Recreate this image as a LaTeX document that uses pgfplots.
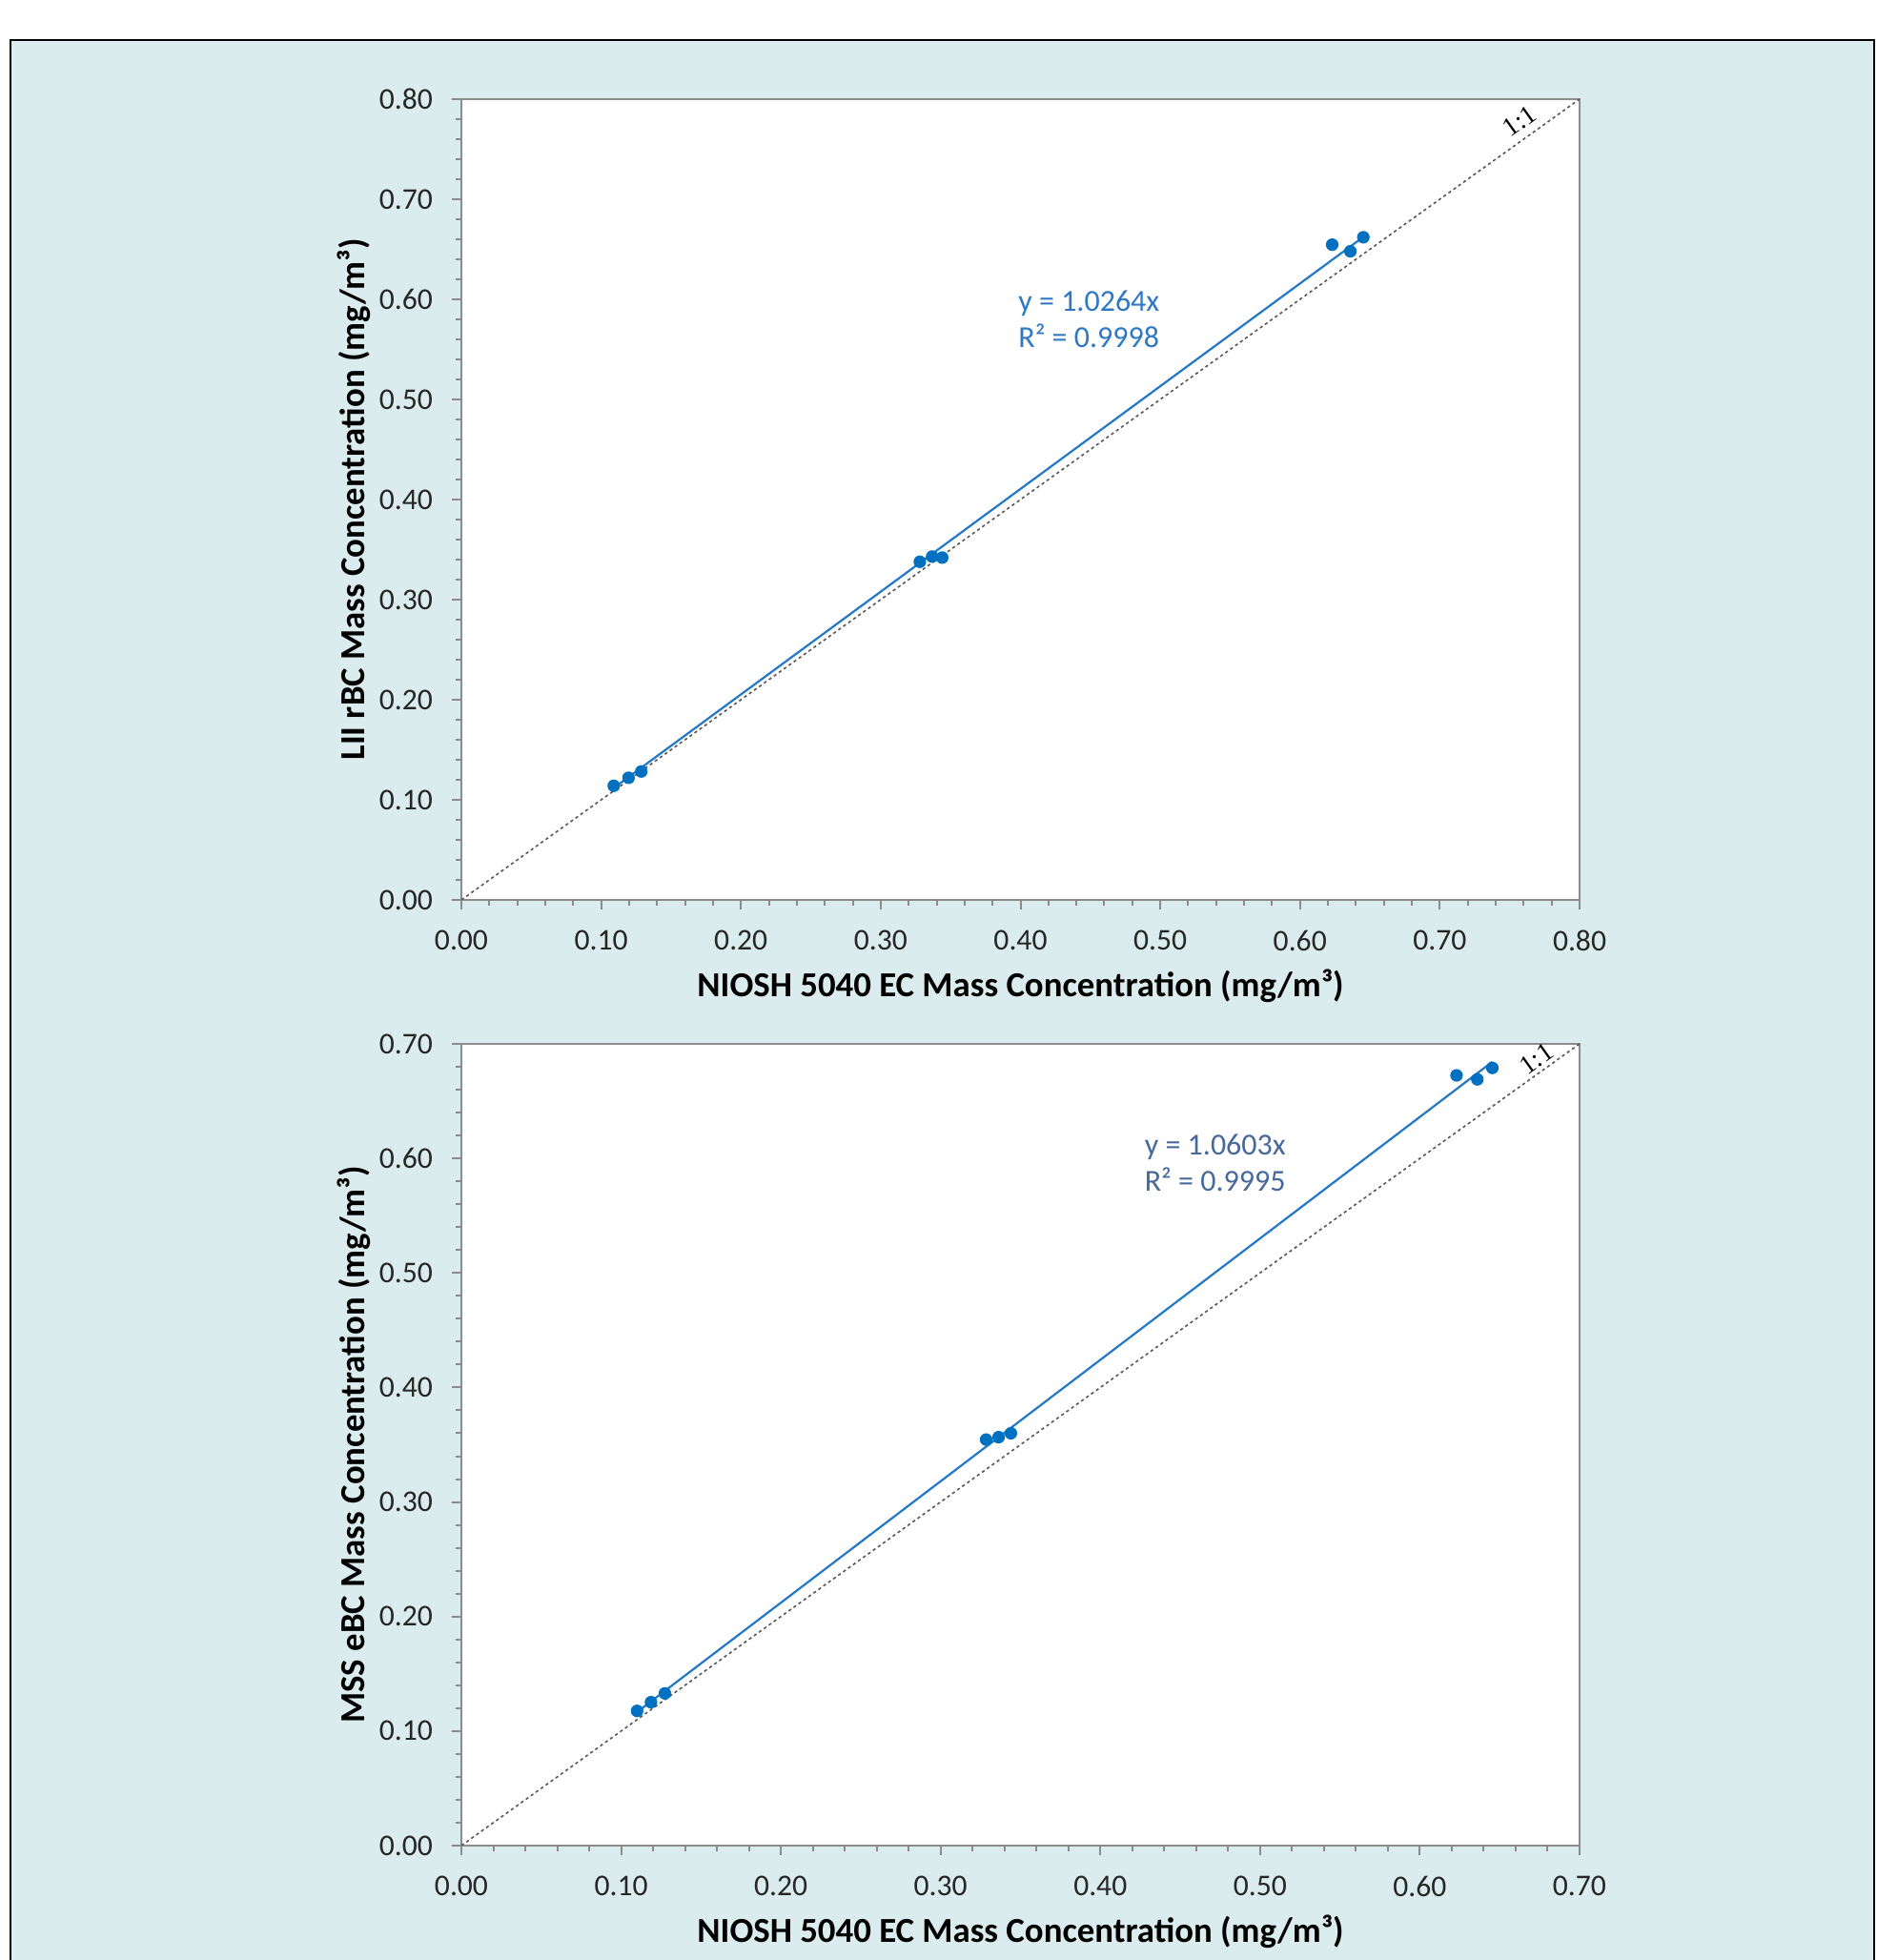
\documentclass[border=0pt]{standalone}
\usepackage{fontspec}
\setmainfont{Carlito}
\newfontfamily\serifont{Liberation Serif}
\usepackage{pgfplots}
\usepackage{pgfplotstable}
\pgfplotsset{compat=1.18}
\definecolor{bgblue}{HTML}{DAECEE}
\definecolor{ptblue}{HTML}{0070C0}
\definecolor{lnblue}{HTML}{2478C8}
\definecolor{eqblueA}{HTML}{2F78C4}
\definecolor{eqblueB}{HTML}{46689A}
\definecolor{axgray}{HTML}{8C8C8C}

\pgfplotstableread{
x y
0.109 0.114
0.1196 0.122
0.1287 0.1283
0.328 0.3378
0.3368 0.343
0.344 0.342
0.623 0.6546
0.636 0.648
0.6453 0.662
}\liidata

\pgfplotstableread{
x y
0.110 0.1176
0.1187 0.1252
0.1274 0.1329
0.3285 0.3545
0.3363 0.3566
0.344 0.3600
0.623 0.6725
0.636 0.669
0.6454 0.679
}\mssdata

\pgfplotsset{mystyle/.style={
  scale only axis, width=293.25pt, height=210pt,
  anchor=south west,
  xmin=0, ymin=0,
  axis background/.style={fill=white},
  axis line style={draw=axgray, line width=0.6pt},
  tick style={draw=axgray, line width=0.5pt},
  tick align=outside,
  major tick length=2.5pt, minor tick length=1.5pt,
  minor tick num=4,
  xtick distance=0.1, ytick distance=0.1,
  xtick pos=left, ytick pos=left,
  /pgf/number format/fixed,
  /pgf/number format/fixed zerofill,
  /pgf/number format/precision=2,
  /pgf/number format/assume math mode=true,
  tick label style={font=\fontsize{7.9pt}{9pt}\selectfont, text=black!85},
  xticklabel style={yshift=-1.9pt},
  yticklabel style={xshift=-1.5pt},
  xlabel style={font=\bfseries\fontsize{9.2pt}{11pt}\selectfont, at={(axis description cs:0.5,-0.1071)}, anchor=center},
  ylabel style={font=\bfseries\fontsize{9.2pt}{11pt}\selectfont, at={(axis description cs:-0.0963,0.5)}, anchor=center},
  clip mode=individual,
}}

\begin{document}
\begin{tikzpicture}
\useasboundingbox (0,0) rectangle (492.25pt,514pt);
\fill[white] (0,0) rectangle (492.25pt,514pt);
\begin{scope}
\clip (0,0) rectangle (492.25pt,514pt);
\draw[line width=0.7pt, fill=bgblue] (2.75pt,-5pt) rectangle (491.5pt,503.5pt);
\end{scope}

\begin{axis}[mystyle, at={(121pt,278pt)}, xmax=0.8, ymax=0.8,
  xlabel={NIOSH 5040 EC Mass Concentration (mg/m³)},
  ylabel={LII rBC Mass Concentration (mg/m³)}]
\addplot[densely dashed, dash pattern=on 0.8pt off 0.8pt, color=black!65, line width=0.4pt] coordinates {(0,0) (0.8,0.8)};
\addplot[lnblue, line width=0.55pt] coordinates {(0.109,0.11188) (0.6453,0.66234)};
\addplot[only marks, mark=*, mark size=1.45pt, ptblue, mark options={draw=ptblue, fill=ptblue}] table[x=x,y=y] {\liidata};
\node[anchor=west, inner sep=0pt, text=eqblueA, align=left, font=\fontsize{8pt}{9.5pt}\selectfont] at (axis cs:0.398,0.58) {y = 1.0264x\\R² = 0.9998};
\node[rotate=35.6, inner sep=0pt, font=\serifont\fontsize{7pt}{8pt}\selectfont] at (axis cs:0.757,0.778) {1:1};
\end{axis}

\begin{axis}[mystyle, at={(121pt,30pt)}, height=210.25pt, xmax=0.7, ymax=0.7,
  xlabel={NIOSH 5040 EC Mass Concentration (mg/m³)},
  ylabel={MSS eBC Mass Concentration (mg/m³)}]
\addplot[densely dashed, dash pattern=on 0.8pt off 0.8pt, color=black!65, line width=0.4pt] coordinates {(0,0) (0.7,0.7)};
\addplot[lnblue, line width=0.55pt] coordinates {(0.110,0.11663) (0.6454,0.68432)};
\addplot[only marks, mark=*, mark size=1.45pt, ptblue, mark options={draw=ptblue, fill=ptblue}] table[x=x,y=y] {\mssdata};
\node[anchor=west, inner sep=0pt, text=eqblueB, align=left, font=\fontsize{8pt}{9.5pt}\selectfont] at (axis cs:0.4273,0.5965) {y = 1.0603x\\R² = 0.9995};
\node[rotate=35.6, inner sep=0pt, font=\serifont\fontsize{7pt}{8pt}\selectfont] at (axis cs:0.673,0.687) {1:1};
\end{axis}
\end{tikzpicture}
\end{document}
